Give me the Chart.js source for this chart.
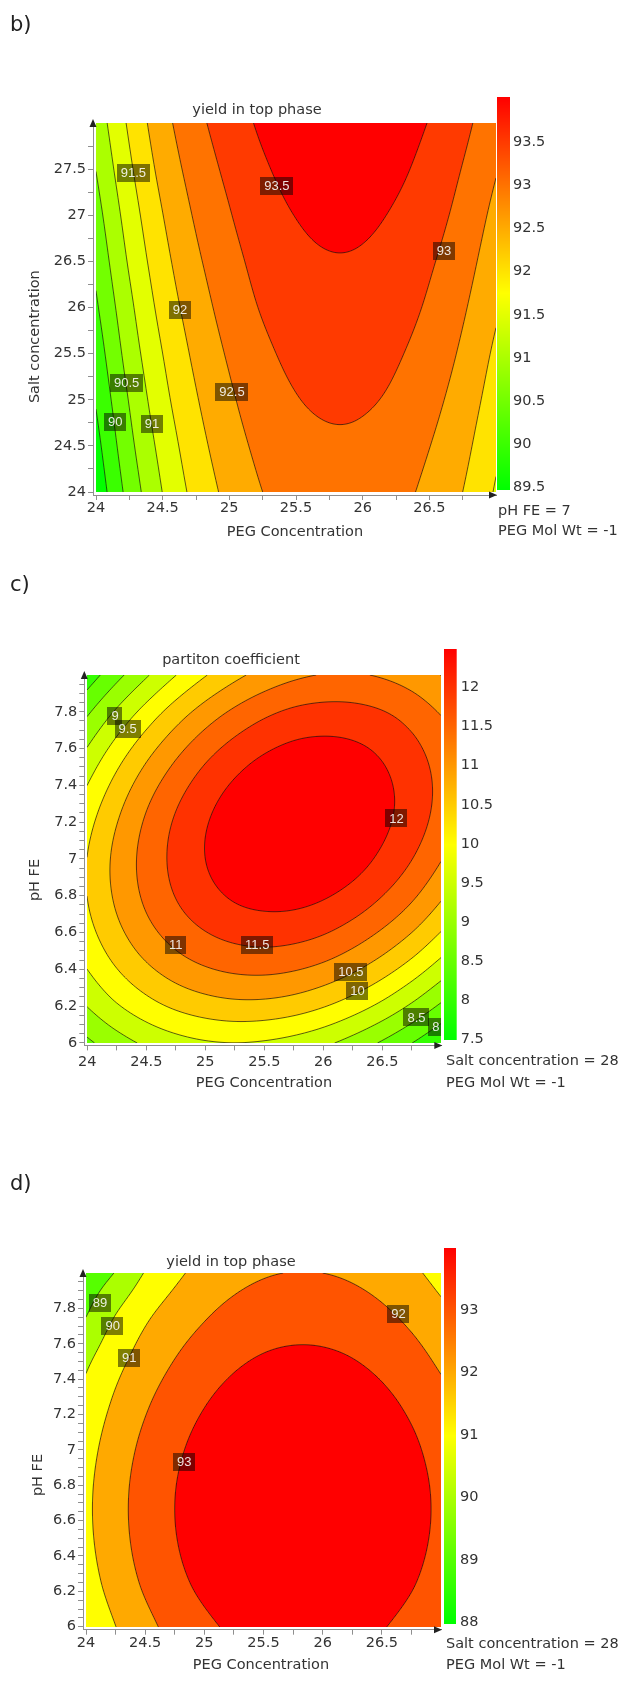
<!DOCTYPE html>
<html><head><meta charset="utf-8">
<script src="https://cdn.jsdelivr.net/npm/chart.js@4.4.1/dist/chart.umd.min.js"></script>
<style>
html,body{margin:0;padding:0;background:#fff;}
body{position:relative;width:627px;height:1694px;overflow:hidden;}
canvas{position:absolute;}
</style></head><body>
<canvas id="bMain" width="627" height="560" style="left:0;top:0"></canvas>
<canvas id="bBar" width="137" height="430" style="left:490px;top:80px"></canvas>
<canvas id="cMain" width="627" height="560" style="left:0;top:560px"></canvas>
<canvas id="cBar" width="197" height="430" style="left:430px;top:630px"></canvas>
<canvas id="dMain" width="627" height="574" style="left:0;top:1120px"></canvas>
<canvas id="dBar" width="197" height="410" style="left:430px;top:1230px"></canvas>
<script>
// ---------------- DATA ----------------
const pegNodes = [24, 24.25, 24.5, 24.75, 25, 25.25, 25.5, 25.75, 26, 26.25, 26.5, 26.75, 27];
const saltNodes = [24, 24.5, 25, 25.5, 26, 26.5, 27, 27.5, 28];
const phNodes = [6, 6.25, 6.5, 6.75, 7, 7.25, 7.5, 7.75, 8];

// b) yield in top phase vs PEG (cols) and salt (rows)
const bYield = [
  [89.15, 90.18, 91.01, 91.66, 92.14, 92.50, 92.71, 92.80, 92.78, 92.65, 92.37, 92.00, 91.45],
  [89.34, 90.36, 91.17, 91.81, 92.28, 92.63, 92.84, 92.93, 92.91, 92.78, 92.51, 92.14, 91.60],
  [89.54, 90.53, 91.34, 91.96, 92.42, 92.77, 92.98, 93.07, 93.05, 92.92, 92.65, 92.28, 91.76],
  [89.73, 90.71, 91.50, 92.11, 92.56, 92.90, 93.11, 93.20, 93.18, 93.05, 92.79, 92.42, 91.91],
  [89.93, 90.88, 91.67, 92.26, 92.70, 93.04, 93.24, 93.33, 93.31, 93.19, 92.93, 92.56, 92.07],
  [90.12, 91.06, 91.83, 92.41, 92.83, 93.17, 93.38, 93.47, 93.45, 93.32, 93.06, 92.70, 92.22],
  [90.31, 91.23, 91.99, 92.56, 92.97, 93.31, 93.51, 93.60, 93.58, 93.45, 93.20, 92.84, 92.37],
  [90.51, 91.41, 92.16, 92.71, 93.11, 93.44, 93.64, 93.73, 93.71, 93.59, 93.34, 92.98, 92.53],
  [90.70, 91.58, 92.32, 92.86, 93.25, 93.58, 93.78, 93.86, 93.85, 93.72, 93.48, 93.13, 92.68]
];
// c) partition coefficient vs PEG (cols) and pH (rows)
const cPartition = [
  [8.41, 8.78, 9.09, 9.31, 9.45, 9.50, 9.45, 9.32, 9.11, 8.81, 8.44, 8.01, 7.53],
  [9.15, 9.60, 9.97, 10.26, 10.45, 10.55, 10.55, 10.45, 10.25, 9.96, 9.59, 9.14, 8.63],
  [9.69, 10.20, 10.64, 10.99, 11.24, 11.39, 11.44, 11.38, 11.22, 10.95, 10.59, 10.15, 9.63],
  [9.98, 10.55, 11.05, 11.46, 11.77, 11.98, 12.07, 12.06, 11.94, 11.71, 11.38, 10.96, 10.44],
  [10.01, 10.63, 11.17, 11.63, 12.00, 12.26, 12.41, 12.45, 12.38, 12.20, 11.90, 11.51, 11.02],
  [9.77, 10.42, 11.01, 11.51, 11.92, 12.23, 12.43, 12.53, 12.50, 12.37, 12.12, 11.78, 11.33],
  [9.28, 9.95, 10.56, 11.09, 11.54, 11.89, 12.14, 12.28, 12.31, 12.23, 12.03, 11.73, 11.34],
  [8.58, 9.24, 9.85, 10.40, 10.87, 11.25, 11.54, 11.73, 11.80, 11.77, 11.64, 11.39, 11.05],
  [7.72, 8.35, 8.94, 9.49, 9.97, 10.37, 10.68, 10.90, 11.02, 11.04, 10.95, 10.77, 10.49]
];
// d) yield in top phase vs PEG (cols) and pH (rows)
const dYield = [
  [90.13, 90.99, 91.72, 92.32, 92.80, 93.16, 93.39, 93.49, 93.47, 93.33, 93.06, 92.66, 92.14],
  [90.55, 91.41, 92.14, 92.74, 93.22, 93.58, 93.81, 93.91, 93.89, 93.75, 93.48, 93.08, 92.56],
  [90.77, 91.63, 92.36, 92.96, 93.44, 93.80, 94.03, 94.13, 94.11, 93.97, 93.70, 93.30, 92.78],
  [90.80, 91.66, 92.39, 92.99, 93.47, 93.83, 94.06, 94.16, 94.14, 94.00, 93.73, 93.33, 92.81],
  [90.64, 91.50, 92.23, 92.83, 93.31, 93.67, 93.90, 94.00, 93.98, 93.84, 93.57, 93.17, 92.65],
  [90.31, 91.17, 91.90, 92.50, 92.98, 93.34, 93.57, 93.67, 93.65, 93.51, 93.24, 92.84, 92.32],
  [89.84, 90.70, 91.43, 92.03, 92.51, 92.87, 93.10, 93.20, 93.18, 93.04, 92.77, 92.37, 91.85],
  [89.00, 90.05, 90.86, 91.46, 91.94, 92.30, 92.53, 92.63, 92.61, 92.47, 92.20, 91.80, 91.28],
  [88.30, 89.05, 90.05, 90.78, 91.33, 91.69, 91.92, 92.02, 92.00, 91.86, 91.59, 91.19, 90.67]
];

const bLevels = [89.5, 90, 90.5, 91, 91.5, 92, 92.5, 93, 93.5];
const cLevels = [7.5, 8, 8.5, 9, 9.5, 10, 10.5, 11, 11.5, 12];
const dLevels = [88, 89, 90, 91, 92, 93];

const bRange = [89.48, 94.02];
const cRange = [7.49, 12.49];
const dRange = [87.99, 93.99];

const bBarTicks = [89.5, 90, 90.5, 91, 91.5, 92, 92.5, 93, 93.5];
const cBarTicks = [7.5, 8, 8.5, 9, 9.5, 10, 10.5, 11, 11.5, 12];
const dBarTicks = [88, 89, 90, 91, 92, 93];

const xTicks = [24, 24.25, 24.5, 24.75, 25, 25.25, 25.5, 25.75, 26, 26.25, 26.5, 26.75];
const xTickLabels = [24, 24.5, 25, 25.5, 26, 26.5];
const saltTicks = [24, 24.25, 24.5, 24.75, 25, 25.25, 25.5, 25.75, 26, 26.25, 26.5, 26.75, 27, 27.25, 27.5, 27.75];
const saltTickLabels = [24, 24.5, 25, 25.5, 26, 26.5, 27, 27.5];
const phTicks = [6, 6.05, 6.1, 6.15, 6.2, 6.25, 6.3, 6.35, 6.4, 6.45, 6.5, 6.55, 6.6, 6.65, 6.7, 6.75, 6.8, 6.85, 6.9, 6.95,
                 7, 7.05, 7.1, 7.15, 7.2, 7.25, 7.3, 7.35, 7.4, 7.45, 7.5, 7.55, 7.6, 7.65, 7.7, 7.75, 7.8, 7.85, 7.9, 7.95];
const phTickLabels = [6, 6.2, 6.4, 6.6, 6.8, 7, 7.2, 7.4, 7.6, 7.8];

const bLabelX = [24.28, 25.357, 26.61, 24.63, 24.23, 25.02, 24.145, 24.42];
const bLabelY = [27.46, 27.32, 26.61, 25.97, 25.18, 25.08, 24.76, 24.74];
const bLabelText = ['91.5', '93.5', '93', '92', '90.5', '92.5', '90', '91'];
const cLabelX = [24.235, 24.342, 26.62, 24.75, 25.44, 26.234, 26.29, 26.79, 26.955];
const cLabelY = [7.777, 7.705, 7.22, 6.53, 6.53, 6.387, 6.283, 6.138, 6.088];
const cLabelText = ['9', '9.5', '12', '11', '11.5', '10.5', '10', '8.5', '8'];
const dLabelX = [24.118, 24.225, 24.366, 26.64, 24.83];
const dLabelY = [7.83, 7.70, 7.518, 7.766, 6.93];
const dLabelText = ['89', '90', '91', '92', '93'];

// ---------------- RENDERING ----------------
const FONT = '"DejaVu Sans", Verdana, sans-serif';
const LFONT = '"Liberation Sans", Arial, sans-serif';
Chart.defaults.font.family = FONT;
Chart.defaults.color = '#333';

function cr(p0, p1, p2, p3, t) {
  return 0.5 * ((2 * p1) + (-p0 + p2) * t + (2 * p0 - 5 * p1 + 4 * p2 - p3) * t * t + (-p0 + 3 * p1 - 3 * p2 + p3) * t * t * t);
}
function makeSampler(xn, yn, Z) {
  const nx = xn.length, ny = yn.length, dx = xn[1] - xn[0], dy = yn[1] - yn[0];
  function g(i, j) {
    if (j < 0) return 2 * g(i, 0) - g(i, 1);
    if (j > ny - 1) return 2 * g(i, ny - 1) - g(i, ny - 2);
    if (i < 0) return 2 * Z[j][0] - Z[j][1];
    if (i > nx - 1) return 2 * Z[j][nx - 1] - Z[j][nx - 2];
    return Z[j][i];
  }
  return function (x, y) {
    const fx = (x - xn[0]) / dx, fy = (y - yn[0]) / dy;
    const i = Math.max(0, Math.min(nx - 2, Math.floor(fx)));
    const j = Math.max(0, Math.min(ny - 2, Math.floor(fy)));
    const tx = fx - i, ty = fy - j;
    const c = [0, 0, 0, 0];
    for (let m = 0; m < 4; m++) {
      const jj = j - 1 + m;
      c[m] = cr(g(i - 1, jj), g(i, jj), g(i + 1, jj), g(i + 2, jj), tx);
    }
    return cr(c[0], c[1], c[2], c[3], ty);
  };
}
function hueColor(v, range) {
  let t = (v - range[0]) / (range[1] - range[0]);
  t = Math.max(0, Math.min(1, t));
  const h = 120 * (1 - t);
  let r, g;
  if (h >= 60) { g = 255; r = 255 * (120 - h) / 60; } else { r = 255; g = 255 * h / 60; }
  return [Math.round(r), Math.round(g), 0];
}

function drawField(chart, P) {
  const xs = chart.scales.x, ys = chart.scales.y, ctx = chart.ctx;
  const f = makeSampler(P.xn, P.yn, P.z);
  const L = Math.round(xs.getPixelForValue(P.xn[0])), R = Math.round(xs.getPixelForValue(P.xn[P.xn.length - 1]));
  const T = Math.round(ys.getPixelForValue(P.yn[P.yn.length - 1])), B = Math.round(ys.getPixelForValue(P.yn[0]));
  const w = R - L, h = B - T;
  const bands = [];
  for (let k = 0; k <= P.levels.length; k++) bands.push(hueColor(k < P.levels.length ? P.levels[k] : P.range[1], P.range));
  const off = document.createElement('canvas'); off.width = w; off.height = h;
  const octx = off.getContext('2d'); const img = octx.createImageData(w, h);
  const colX = [], rowY = [];
  for (let i = 0; i < w; i++) colX.push(xs.getValueForPixel(L + i + 0.5));
  for (let j = 0; j < h; j++) rowY.push(ys.getValueForPixel(T + j + 0.5));
  for (let j = 0; j < h; j++) {
    for (let i = 0; i < w; i++) {
      const z = f(colX[i], rowY[j]);
      let k = 0; while (k < P.levels.length && z >= P.levels[k]) k++;
      const c = bands[k], o = (j * w + i) * 4;
      img.data[o] = c[0]; img.data[o + 1] = c[1]; img.data[o + 2] = c[2]; img.data[o + 3] = 255;
    }
  }
  octx.putImageData(img, 0, 0);
  ctx.drawImage(off, L, T);

  // contour lines (marching squares on a 2px sample grid)
  const s = 2, nx = Math.ceil(w / s) + 1, ny = Math.ceil(h / s) + 1;
  const PX = [], PY = [], F = [];
  for (let k = 0; k < nx; k++) PX.push(Math.min(L + k * s, R));
  for (let l = 0; l < ny; l++) PY.push(Math.min(T + l * s, B));
  for (let l = 0; l < ny; l++) {
    const row = [], yv = ys.getValueForPixel(PY[l]);
    for (let k = 0; k < nx; k++) row.push(f(xs.getValueForPixel(PX[k]), yv));
    F.push(row);
  }
  ctx.save();
  ctx.beginPath(); ctx.rect(L, T, w, h); ctx.clip();
  ctx.strokeStyle = 'rgba(25,20,15,0.8)'; ctx.lineWidth = 0.85;
  for (const lev of P.levels) {
    ctx.beginPath();
    for (let l = 0; l < ny - 1; l++) {
      for (let k = 0; k < nx - 1; k++) {
        const a = F[l][k], b = F[l][k + 1], c = F[l + 1][k + 1], d = F[l + 1][k];
        const pts = [];
        const edge = (v1, v2, x1, y1, x2, y2) => {
          if ((v1 >= lev) !== (v2 >= lev)) { const t = (lev - v1) / (v2 - v1); pts.push([x1 + t * (x2 - x1), y1 + t * (y2 - y1)]); }
        };
        edge(a, b, PX[k], PY[l], PX[k + 1], PY[l]);
        edge(b, c, PX[k + 1], PY[l], PX[k + 1], PY[l + 1]);
        edge(d, c, PX[k], PY[l + 1], PX[k + 1], PY[l + 1]);
        edge(a, d, PX[k], PY[l], PX[k], PY[l + 1]);
        if (pts.length >= 2) { ctx.moveTo(pts[0][0], pts[0][1]); ctx.lineTo(pts[1][0], pts[1][1]); }
        if (pts.length === 4) { ctx.moveTo(pts[2][0], pts[2][1]); ctx.lineTo(pts[3][0], pts[3][1]); }
      }
    }
    ctx.stroke();
  }
  // contour labels
  ctx.font = '13px ' + LFONT;
  ctx.textAlign = 'center'; ctx.textBaseline = 'middle';
  for (let n = 0; n < P.labels.t.length; n++) {
    const px = xs.getPixelForValue(P.labels.x[n]), py = ys.getPixelForValue(P.labels.y[n]);
    const tw = ctx.measureText(P.labels.t[n]).width, bw = tw + 8, bh = 18;
    ctx.fillStyle = 'rgba(0,0,0,0.5)';
    ctx.fillRect(Math.round(px - bw / 2), Math.round(py - bh / 2), Math.round(bw), bh);
    ctx.fillStyle = 'rgba(255,255,255,0.88)';
    ctx.fillText(P.labels.t[n], px, py + 0.5);
  }
  ctx.restore();
}

function drawTexts(chart, P) {
  const ctx = chart.ctx, a = chart.chartArea;
  ctx.save();
  for (const t of P.texts) {
    ctx.font = (t.size || 14.5) + 'px ' + FONT;
    ctx.fillStyle = t.color || '#333';
    ctx.textAlign = t.align || 'center';
    ctx.textBaseline = t.base || 'middle';
    const y = t.y - P.top;
    if (t.rot) { ctx.save(); ctx.translate(t.x, y); ctx.rotate(t.rot * Math.PI / 180); ctx.fillText(t.s, 0, 0); ctx.restore(); }
    else ctx.fillText(t.s, t.x, y);
  }
  // axis arrows
  ctx.fillStyle = '#222';
  ctx.beginPath(); ctx.moveTo(a.right + 1, a.bottom); ctx.lineTo(a.right - 7, a.bottom - 3.5); ctx.lineTo(a.right - 7, a.bottom + 3.5); ctx.closePath(); ctx.fill();
  ctx.beginPath(); ctx.moveTo(a.left, a.top - 4); ctx.lineTo(a.left - 3.5, a.top + 4); ctx.lineTo(a.left + 3.5, a.top + 4); ctx.closePath(); ctx.fill();
  ctx.restore();
}

function mainChart(id, P) {
  const plugin = {
    id: 'field_' + id,
    beforeDatasetsDraw(chart) { drawField(chart, P); },
    afterDraw(chart) { drawTexts(chart, P); }
  };
  const tickFont = { family: FONT, size: 14.5 };
  return new Chart(document.getElementById(id), {
    type: 'scatter',
    data: { datasets: [{ data: [], pointRadius: 0 }] },
    options: {
      responsive: false, animation: false, devicePixelRatio: 1,
      layout: { padding: P.pad },
      plugins: { legend: { display: false }, tooltip: { enabled: false }, title: { display: false } },
      scales: {
        x: {
          type: 'linear', position: 'bottom', min: P.xMin, max: P.xMax,
          afterBuildTicks: s => { s.ticks = P.xTicks.map(v => ({ value: v })); },
          afterFit: s => { s.height = P.xAxisH; },
          grid: { drawOnChartArea: false, drawTicks: true, tickLength: 5, color: '#8f8f8f' },
          border: { display: true, color: '#8f8f8f', width: 1 },
          ticks: { autoSkip: false, maxRotation: 0, padding: P.xTickPad, color: '#333', font: tickFont,
                   callback: v => P.xTickLabels.includes(v) ? String(v) : '' }
        },
        y: {
          type: 'linear', position: 'left', min: P.yMin, max: P.yMax,
          afterBuildTicks: s => { s.ticks = P.yTicks.map(v => ({ value: v })); },
          afterFit: s => { s.width = P.yAxisW; },
          grid: { drawOnChartArea: false, drawTicks: true, tickLength: 5, color: '#8f8f8f' },
          border: { display: true, color: '#8f8f8f', width: 1 },
          ticks: { autoSkip: false, padding: 2, color: '#333', font: tickFont,
                   callback: v => P.yTickLabels.includes(v) ? String(v) : '' }
        }
      }
    },
    plugins: [plugin]
  });
}

function barChart(id, P) {
  const plugin = {
    id: 'bar_' + id,
    beforeDatasetsDraw(chart) {
      const ctx = chart.ctx, a = chart.chartArea, y = chart.scales.y;
      for (let py = Math.floor(a.top); py < Math.ceil(a.bottom); py++) {
        const c = hueColor(y.getValueForPixel(py + 0.5), P.range);
        ctx.fillStyle = 'rgb(' + c[0] + ',' + c[1] + ',' + c[2] + ')';
        ctx.fillRect(a.left, py, a.right - a.left, 1);
      }
    }
  };
  return new Chart(document.getElementById(id), {
    type: 'scatter',
    data: { datasets: [{ data: [], pointRadius: 0 }] },
    options: {
      responsive: false, animation: false, devicePixelRatio: 1,
      layout: { padding: P.barPad },
      plugins: { legend: { display: false }, tooltip: { enabled: false } },
      scales: {
        x: { display: false, min: 0, max: 1 },
        y: {
          type: 'linear', position: 'right', min: P.range[0], max: P.range[1],
          afterBuildTicks: s => { s.ticks = P.barTicks.map(v => ({ value: v })); },
          afterFit: s => { s.width = P.barAxisW; },
          grid: { display: false, drawTicks: false },
          border: { display: false },
          ticks: { padding: P.barLabelPad, color: '#333', font: { family: FONT, size: 14.5 }, callback: v => String(v) }
        }
      }
    },
    plugins: [plugin]
  });
}

const panels = [
  { main: 'bMain', bar: 'bBar', top: 0,
    xn: pegNodes, yn: saltNodes, z: bYield, levels: bLevels, range: bRange, barTicks: bBarTicks,
    xMin: 23.9775, xMax: 27, yMin: 23.9675, yMax: 28, yAxisW: 93, xAxisH: 40, xTickPad: 0,
    pad: { left: 0, right: 131, top: 123, bottom: 25 },
    xTicks: xTicks, xTickLabels: xTickLabels, yTicks: saltTicks, yTickLabels: saltTickLabels,
    labels: { x: bLabelX, y: bLabelY, t: bLabelText },
    barPad: { left: 7, right: 0, top: 17.3, bottom: 20.7 }, barAxisW: 117, barLabelPad: 3,
    texts: [
      { s: 'b)', x: 10, y: 30.5, size: 21, align: 'left', base: 'alphabetic', color: '#222' },
      { s: 'yield in top phase', x: 257, y: 110.5 },
      { s: 'Salt concentration', x: 35, y: 336.7, rot: -90 },
      { s: 'PEG Concentration', x: 295, y: 532 },
      { s: 'pH FE = 7', x: 498, y: 511.7, align: 'left' },
      { s: 'PEG Mol Wt = -1', x: 498, y: 531.7, align: 'left' }
    ] },
  { main: 'cMain', bar: 'cBar', top: 560,
    xn: pegNodes, yn: phNodes, z: cPartition, levels: cLevels, range: cRange, barTicks: cBarTicks,
    xMin: 23.9746, xMax: 27, yMin: 5.9859, yMax: 8, yAxisW: 84.3, xAxisH: 40, xTickPad: 3,
    pad: { left: 0, right: 185.7, top: 115, bottom: 34.6 },
    xTicks: xTicks, xTickLabels: xTickLabels, yTicks: phTicks, yTickLabels: phTickLabels,
    labels: { x: cLabelX, y: cLabelY, t: cLabelText },
    barPad: { left: 14, right: 0, top: 19.3, bottom: 20 }, barAxisW: 170.3, barLabelPad: 4,
    texts: [
      { s: 'c)', x: 10, y: 590.5, size: 21, align: 'left', base: 'alphabetic', color: '#222' },
      { s: 'partiton coefficient', x: 231, y: 660.7 },
      { s: 'pH FE', x: 35, y: 880, rot: -90 },
      { s: 'PEG Concentration', x: 264, y: 1083 },
      { s: 'Salt concentration = 28', x: 446, y: 1061.7, align: 'left' },
      { s: 'PEG Mol Wt = -1', x: 446, y: 1083.3, align: 'left' }
    ] },
  { main: 'dMain', bar: 'dBar', top: 1120,
    xn: pegNodes, yn: phNodes, z: dYield, levels: dLevels, range: dRange, barTicks: dBarTicks,
    xMin: 23.9746, xMax: 27, yMin: 5.983, yMax: 8, yAxisW: 83, xAxisH: 40, xTickPad: 0,
    pad: { left: 0, right: 186, top: 153, bottom: 24.3 },
    xTicks: xTicks, xTickLabels: xTickLabels, yTicks: phTicks, yTickLabels: phTickLabels,
    labels: { x: dLabelX, y: dLabelY, t: dLabelText },
    barPad: { left: 14, right: 0, top: 18.3, bottom: 16.7 }, barAxisW: 171, barLabelPad: 4,
    texts: [
      { s: 'd)', x: 10, y: 1190, size: 21, align: 'left', base: 'alphabetic', color: '#222' },
      { s: 'yield in top phase', x: 231, y: 1262 },
      { s: 'pH FE', x: 38, y: 1475, rot: -90 },
      { s: 'PEG Concentration', x: 261, y: 1665 },
      { s: 'Salt concentration = 28', x: 446, y: 1644, align: 'left' },
      { s: 'PEG Mol Wt = -1', x: 446, y: 1665, align: 'left' }
    ] }
];

for (const P of panels) { mainChart(P.main, P); barChart(P.bar, P); }
</script>
</body></html>
